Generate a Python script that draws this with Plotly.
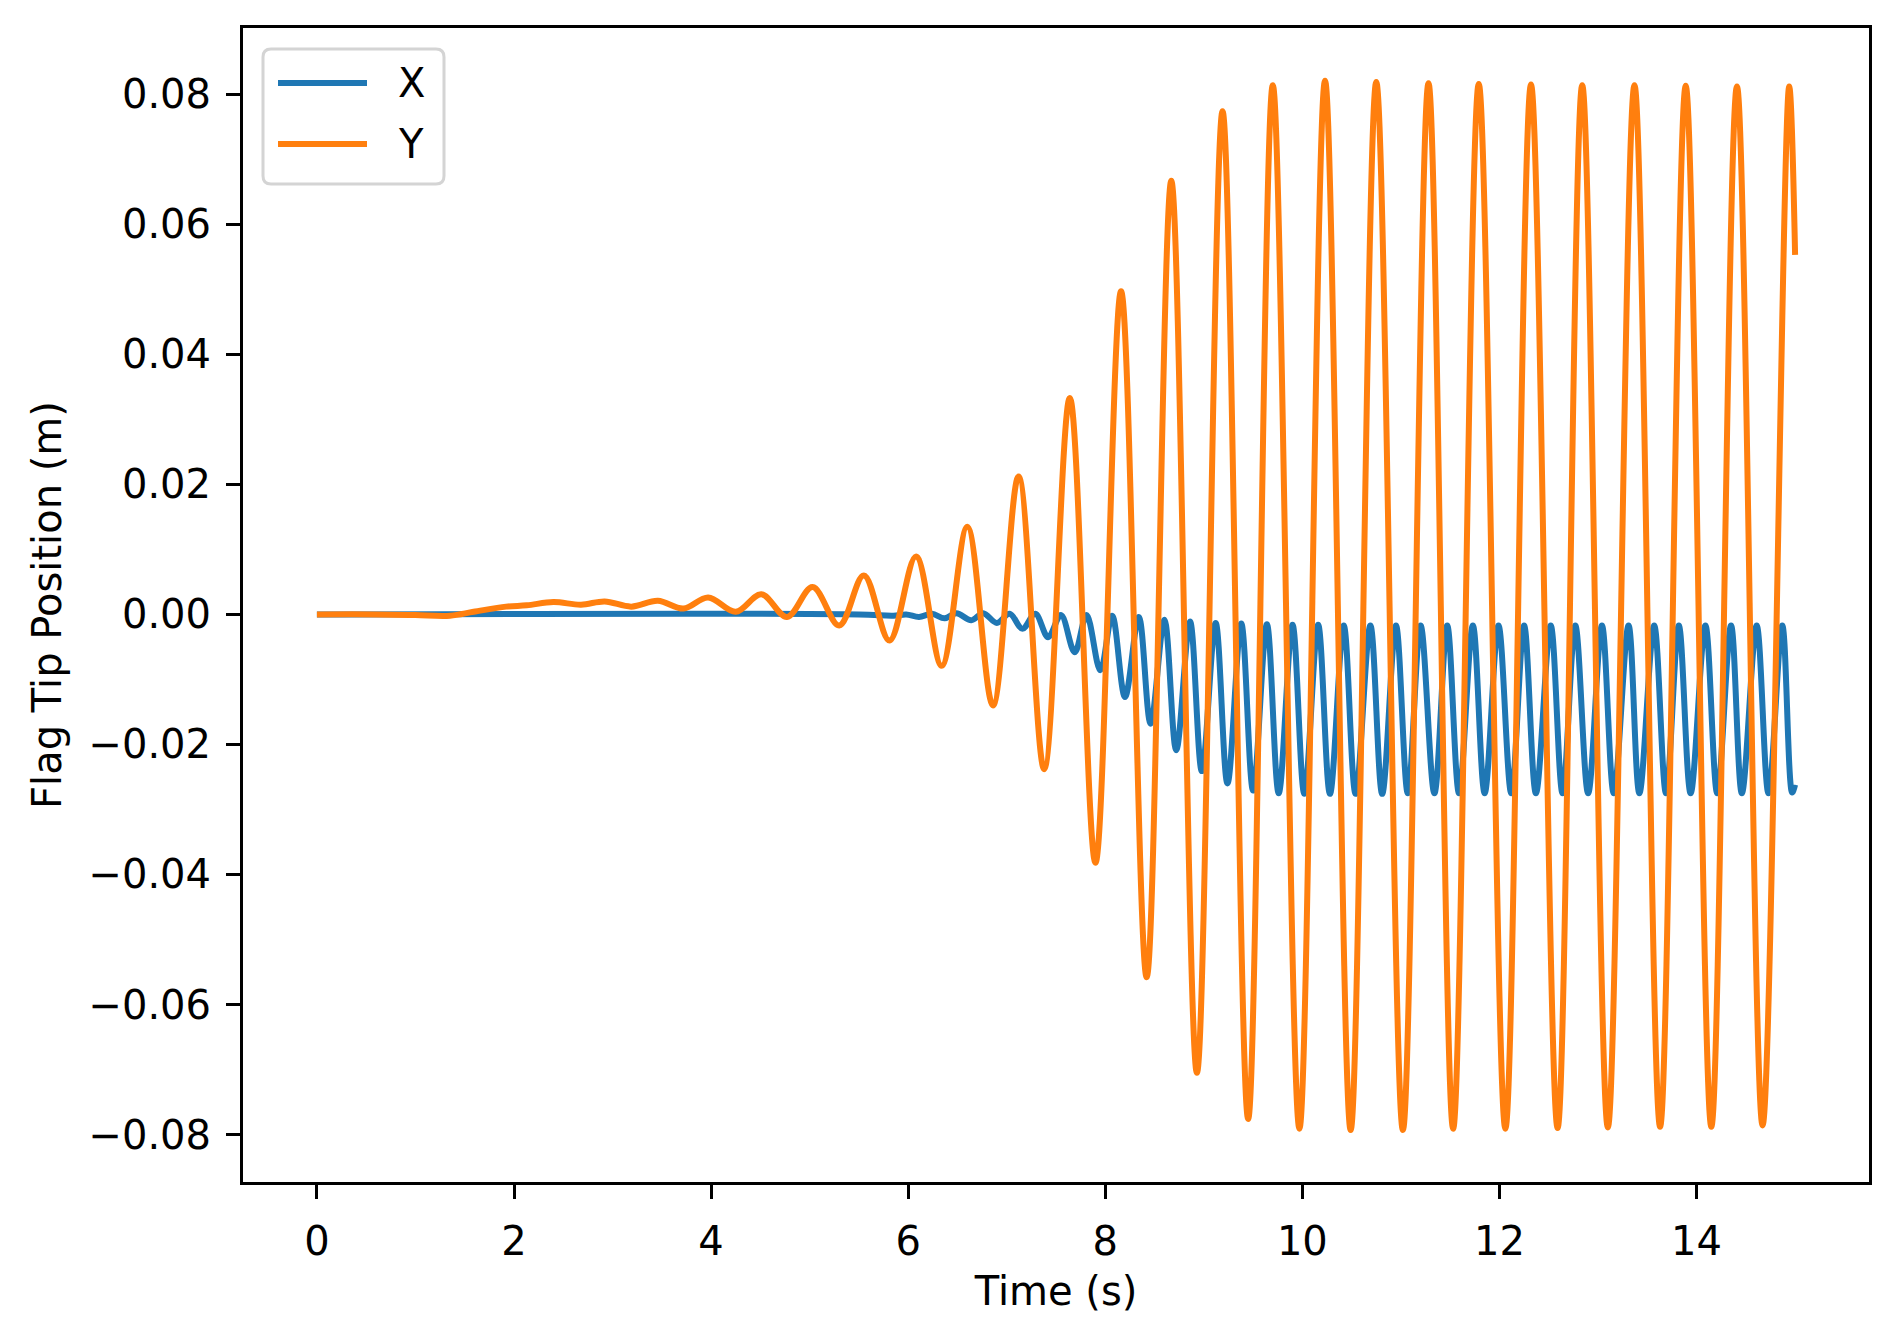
import plotly.graph_objects as go

# ---- data (extrema / turning points) ----
x_time = [0, 5.5, 5.85, 5.98, 6.11, 6.24, 6.37, 6.49, 6.64, 6.76, 6.90, 7.03, 7.16, 7.29,
          7.42, 7.55, 7.69, 7.81, 7.95, 8.07, 8.20, 8.34, 8.46, 8.60, 8.72, 8.86, 8.98,
          9.12, 9.24, 9.38, 9.50, 9.64, 9.76, 9.90, 10.02, 10.16, 10.28, 10.42, 10.54,
          10.69, 10.81, 10.95, 11.07, 11.20, 11.34, 11.47, 11.59, 11.73, 11.85, 11.99,
          12.12, 12.25, 12.37, 12.52, 12.64, 12.77, 12.90, 13.04, 13.16, 13.31, 13.42,
          13.57, 13.69, 13.82, 13.94, 14.09, 14.21, 14.35, 14.46, 14.61, 14.73, 14.87,
          14.97, 15.0]
x_pos = [0, 0, -0.0002, 0.0, -0.0004, 0.0001, -0.0006, 0.0002, -0.0009, 0.0002, -0.0013,
         0.0001, -0.0022, 0.0001, -0.0035, -0.0001, -0.0058, -0.0001, -0.0086, -0.0002,
         -0.0127, -0.0004, -0.0168, -0.0008, -0.0209, -0.0011, -0.0241, -0.0013, -0.0260,
         -0.0014, -0.0271, -0.0015, -0.0275, -0.0016, -0.0276, -0.0016, -0.0276, -0.0017,
         -0.0276, -0.0017, -0.0276, -0.0017, -0.0275, -0.0017, -0.0275, -0.0017, -0.0275,
         -0.0017, -0.0275, -0.0017, -0.0275, -0.0017, -0.0275, -0.0017, -0.0275, -0.0017,
         -0.0275, -0.0017, -0.0275, -0.0017, -0.0275, -0.0017, -0.0275, -0.0017, -0.0275,
         -0.0017, -0.0275, -0.0017, -0.0275, -0.0017, -0.0275, -0.0017, -0.0274, -0.0262]

y_time = [0, 0.6, 1.0, 1.35, 1.59, 1.92, 2.13, 2.40, 2.68, 2.92, 3.19, 3.46, 3.72, 3.97,
          4.25, 4.51, 4.77, 5.03, 5.30, 5.55, 5.81, 6.08, 6.34, 6.60, 6.86, 7.12, 7.38,
          7.64, 7.90, 8.16, 8.42, 8.67, 8.93, 9.19, 9.45, 9.70, 9.97, 10.23, 10.49, 10.75,
          11.02, 11.28, 11.53, 11.79, 12.06, 12.32, 12.59, 12.84, 13.10, 13.37, 13.63,
          13.89, 14.15, 14.41, 14.67, 14.94, 15.0]
y_pos = [0, 0, -0.0001, -0.0002, 0.0004, 0.0012, 0.0014, 0.0019, 0.0015, 0.0020, 0.0012,
         0.0021, 0.0009, 0.0026, 0.0004, 0.0031, -0.0004, 0.0042, -0.0017, 0.0060, -0.0040,
         0.0089, -0.0079, 0.0135, -0.0140, 0.0212, -0.0238, 0.0333, -0.0382, 0.0497,
         -0.0558, 0.0667, -0.0705, 0.0774, -0.0776, 0.0814, -0.0791, 0.0821, -0.0793,
         0.0819, -0.0793, 0.0817, -0.0791, 0.0816, -0.0791, 0.0815, -0.0790, 0.0814,
         -0.0789, 0.0814, -0.0788, 0.0813, -0.0788, 0.0812, -0.0786, 0.0812, 0.0553]

x_ticks = [0, 2, 4, 6, 8, 10, 12, 14]
x_ticklabels = ["0", "2", "4", "6", "8", "10", "12", "14"]
y_ticks = [-0.08, -0.06, -0.04, -0.02, 0.0, 0.02, 0.04, 0.06, 0.08]
y_ticklabels = ["\u22120.08", "\u22120.06", "\u22120.04", "\u22120.02", "0.00",
                "0.02", "0.04", "0.06", "0.08"]
series_names = ["X", "Y"]
series_colors = ["#1f77b4", "#ff7f0e"]

FONT = "DejaVu Sans"
W, H = 1900, 1340
L, R, T, B = 243, 1869, 28, 1182


def px(xp):
    return (xp - L) / (R - L)


def py(yp):
    return (B - yp) / (B - T)


fig = go.Figure()
for name, tt, vv, col in [(series_names[0], x_time, x_pos, series_colors[0]),
                          (series_names[1], y_time, y_pos, series_colors[1])]:
    fig.add_trace(go.Scatter(x=tt, y=vv, mode="lines", name=name,
                             line=dict(color=col, width=6, shape="spline", smoothing=1.0),
                             showlegend=False))

axis_common = dict(showline=True, linecolor="black", linewidth=3, mirror=True,
                   ticks="outside", ticklen=14, tickwidth=3, tickcolor="black",
                   showgrid=False, zeroline=False,
                   tickfont=dict(family=FONT, size=40, color="black"))

fig.update_xaxes(range=[-0.75, 15.75], tickvals=x_ticks, ticktext=x_ticklabels,
                 title=dict(text="Time (s)", font=dict(family=FONT, size=40, color="black"),
                            standoff=14),
                 ticklabelstandoff=8, **axis_common)
fig.update_yaxes(range=[-0.0873, 0.0902], tickvals=y_ticks, ticktext=y_ticklabels,
                 title=dict(text="Flag Tip Position (m)",
                            font=dict(family=FONT, size=40, color="black"), standoff=15),
                 ticklabelstandoff=7, **axis_common)

# legend drawn as matplotlib-style box
bx0, bx1, by0, by1, rr = 263, 444, 49, 184, 8
path = (f"M {px(bx0 + rr)},{py(by0)} L {px(bx1 - rr)},{py(by0)} "
        f"Q {px(bx1)},{py(by0)} {px(bx1)},{py(by0 + rr)} "
        f"L {px(bx1)},{py(by1 - rr)} Q {px(bx1)},{py(by1)} {px(bx1 - rr)},{py(by1)} "
        f"L {px(bx0 + rr)},{py(by1)} Q {px(bx0)},{py(by1)} {px(bx0)},{py(by1 - rr)} "
        f"L {px(bx0)},{py(by0 + rr)} Q {px(bx0)},{py(by0)} {px(bx0 + rr)},{py(by0)} Z")
shapes = [dict(type="path", xref="paper", yref="paper", path=path,
               line=dict(color="#d4d4d4", width=3), fillcolor="rgba(255,255,255,0.8)")]
annotations = []
for i, (name, col) in enumerate(zip(series_names, series_colors)):
    yy = 83 + i * 61
    shapes.append(dict(type="line", xref="paper", yref="paper",
                       x0=px(278), x1=px(367), y0=py(yy), y1=py(yy),
                       line=dict(color=col, width=6)))
    annotations.append(dict(xref="paper", yref="paper", x=px(396), y=py(yy),
                            xanchor="left", yanchor="middle", text=name, showarrow=False,
                            font=dict(family=FONT, size=40, color="black")))

fig.update_layout(width=W, height=H, margin=dict(l=L, r=W - R, t=T, b=H - B, autoexpand=False),
                  paper_bgcolor="white", plot_bgcolor="white",
                  font=dict(family=FONT, size=40, color="black"),
                  shapes=shapes, annotations=annotations, showlegend=False)

fig.write_html("out.html")
